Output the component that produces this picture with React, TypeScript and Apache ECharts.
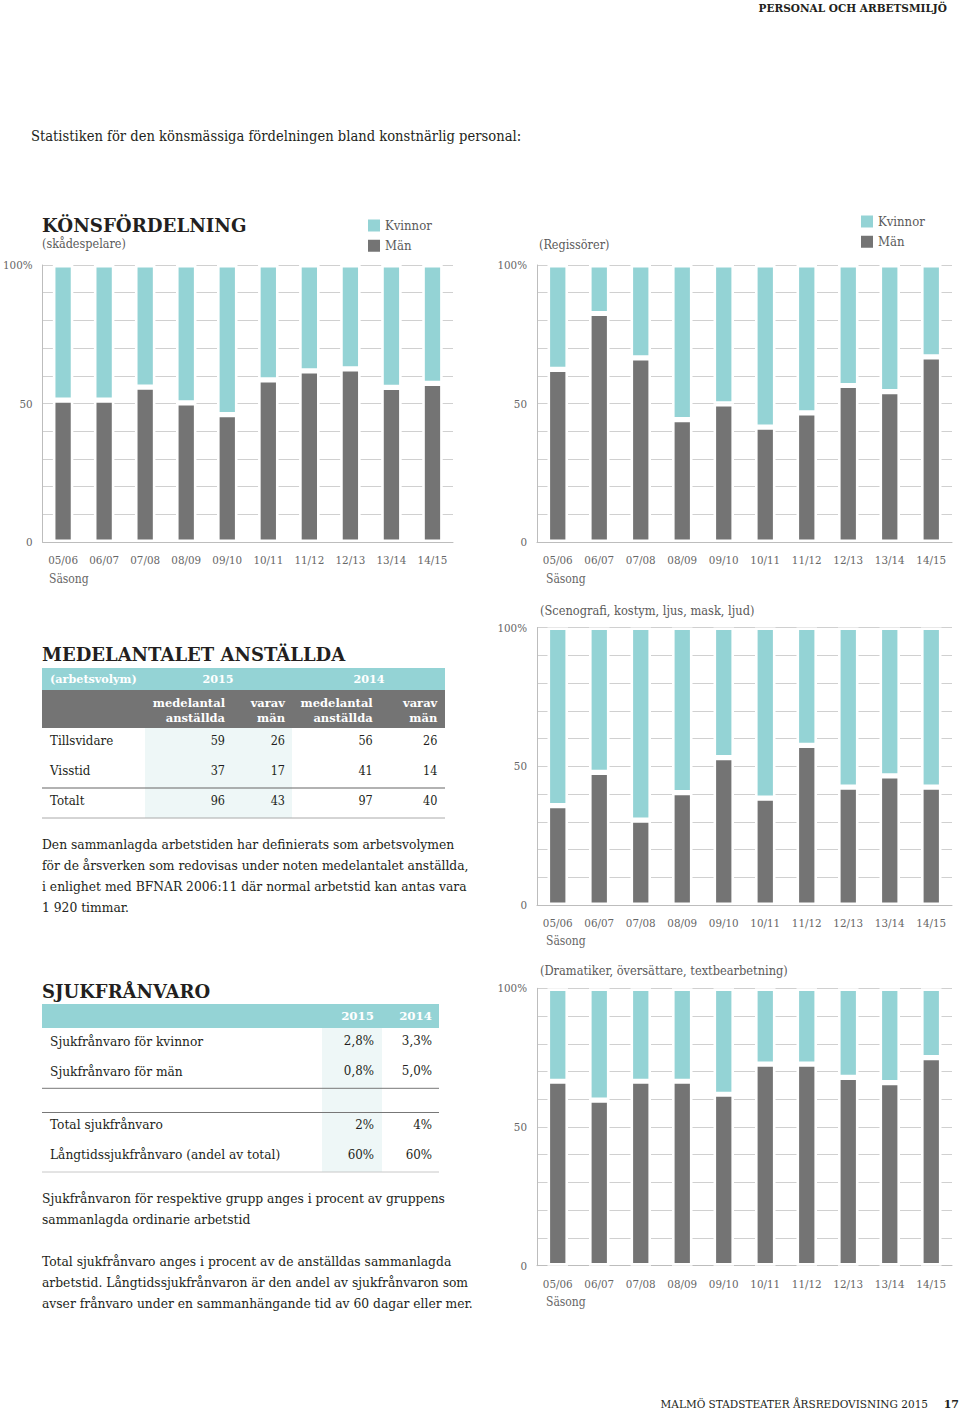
import React, { useEffect, useRef } from "react";
import * as echarts from "echarts";

// ---------- data ----------
const seasons = ["05/06", "06/07", "07/08", "08/09", "09/10", "10/11", "11/12", "12/13", "13/14", "14/15"];
// share of men (Män), percent
const menActors = [51.2, 51.2, 55.9, 50.2, 46.0, 58.5, 61.8, 62.5, 55.8, 57.3];
const menDirectors = [62.3, 82.5, 66.5, 44.2, 49.9, 41.5, 46.6, 56.5, 54.3, 66.8];
const menDesign = [35.8, 47.8, 30.6, 40.5, 53.1, 38.5, 57.5, 42.5, 46.5, 42.5];
const menWriters = [66.5, 59.7, 66.5, 66.5, 61.8, 72.7, 72.7, 67.9, 66.0, 75.0];
// share of women (Kvinnor), percent
const womenActors = [48.8, 48.8, 44.1, 49.8, 54.0, 41.5, 38.2, 37.5, 44.2, 42.7];
const womenDirectors = [37.7, 17.5, 33.5, 55.8, 50.1, 58.5, 53.4, 43.5, 45.7, 33.2];
const womenDesign = [64.2, 52.2, 69.4, 59.5, 46.9, 61.5, 42.5, 57.5, 53.5, 57.5];
const womenWriters = [33.5, 40.3, 33.5, 33.5, 38.2, 27.3, 27.3, 32.1, 34.0, 25.0];
const yTickLabels = { 0: "0", 50: "50", 100: "100%" } as Record<number, string>;
const chartSubtitles = ["(skådespelare)", "(Regissörer)", "(Scenografi, kostym, ljus, mask, ljud)", "(Dramatiker, översättare, textbearbetning)"];
const legendNames = ["Kvinnor", "Män"];

const staffYears = ["2015", "2014"];
const staffColHeads = [["medelantal", "anställda"], ["varav", "män"], ["medelantal", "anställda"], ["varav", "män"]];
const staffRows = ["Tillsvidare", "Visstid", "Totalt"];
const staffValues = [
  [59, 26, 56, 26],
  [37, 17, 41, 14],
  [96, 43, 97, 40],
];
const sickYears = ["2015", "2014"];
const sickRows = ["Sjukfrånvaro för kvinnor", "Sjukfrånvaro för män", "Total sjukfrånvaro", "Långtidssjukfrånvaro (andel av total)"];
const sickValues = [
  ["2,8%", "3,3%"],
  ["0,8%", "5,0%"],
  ["2%", "4%"],
  ["60%", "60%"],
];
const para1 = [
  "Den sammanlagda arbetstiden har definierats som arbetsvolymen",
  "för de årsverken som redovisas under noten medelantalet anställda,",
  "i enlighet med BFNAR 2006:11 där normal arbetstid kan antas vara",
  "1 920 timmar.",
];
const para2 = ["Sjukfrånvaron för respektive grupp anges i procent av gruppens", "sammanlagda ordinarie arbetstid"];
const para3 = [
  "Total sjukfrånvaro anges i procent av de anställdas sammanlagda",
  "arbetstid. Långtidssjukfrånvaron är den andel av sjukfrånvaron som",
  "avser frånvaro under en sammanhängande tid av 60 dagar eller mer.",
];

// ---------- styles ----------
const TEAL = "#94d3d5";
const GRAY = "#747474";
const LIGHT = "#eef7f7";
const INK = "#231f20";
const MUTED = "#5a5a5a";
const SERIF = '"DejaVu Serif Condensed", "DejaVu Serif", serif';
const SERIF_B = '"DejaVu Serif", serif';

function txt(x: number, y: number, text: string, o: any = {}) {
  return {
    type: "text",
    x,
    y,
    silent: true,
    style: {
      text,
      fontSize: o.size ?? 13.6,
      fontFamily: o.family ?? SERIF,
      fontWeight: o.weight ?? "normal",
      fill: o.fill ?? INK,
      align: o.align ?? "left",
      verticalAlign: "middle",
    },
  };
}
function rect(x: number, y: number, w: number, h: number, fill: string) {
  return { type: "rect", silent: true, shape: { x, y, width: w, height: h }, style: { fill } };
}
function hline(x1: number, x2: number, y: number, stroke: string, lw = 1) {
  return { type: "line", silent: true, shape: { x1, y1: y, x2, y2: y }, style: { stroke, lineWidth: lw } };
}

export default function App() {
  const ref = useRef<HTMLDivElement>(null);
  useEffect(() => {
    if (!ref.current) return;
    const chart = echarts.init(ref.current, undefined, { renderer: "svg" });

    const grids = [
      { left: 42, top: 265, width: 411, height: 277 },
      { left: 537, top: 265, width: 415, height: 277 },
      { left: 537, top: 627.5, width: 415, height: 277.5 },
      { left: 537, top: 988.3, width: 415, height: 277.4 },
    ];
    const men = [menActors, menDirectors, menDesign, menWriters];
    const women = [womenActors, womenDirectors, womenDesign, womenWriters];

    const xAxes = grids.map((_, i) => ({
      type: "category",
      gridIndex: i,
      data: seasons,
      axisLine: { lineStyle: { color: "#bdbdbd", width: 1 } },
      axisTick: { show: false },
      axisLabel: { color: "#666", fontSize: 11.5, fontFamily: SERIF, margin: 12, interval: 0 },
    }));
    const yAxes = grids.map((_, i) => ({
      type: "value",
      gridIndex: i,
      min: 0,
      max: 100,
      interval: 10,
      axisLine: { show: true, lineStyle: { color: "#bdbdbd", width: 1 } },
      axisTick: { show: false },
      splitLine: { lineStyle: { color: "#d0d0d0", width: 1 } },
      axisLabel: {
        color: "#666",
        fontSize: 11.5,
        fontFamily: SERIF,
        margin: 10,
        formatter: (v: number) => yTickLabels[v] ?? "",
      },
    }));
    const series: any[] = [];
    grids.forEach((_, i) => {
      series.push({
        name: "Män",
        type: "bar",
        stack: "s" + i,
        xAxisIndex: i,
        yAxisIndex: i,
        data: men[i],
        barWidth: 20.5,
        itemStyle: { color: GRAY, borderColor: "#ffffff", borderWidth: 2.6 },
      });
      series.push({
        name: "Kvinnor",
        type: "bar",
        stack: "s" + i,
        xAxisIndex: i,
        yAxisIndex: i,
        data: women[i],
        barWidth: 20.5,
        itemStyle: { color: TEAL, borderColor: "#ffffff", borderWidth: 2.6 },
      });
    });

    const legendCommon = {
      orient: "vertical",
      itemWidth: 14,
      itemHeight: 14,
      itemGap: 4.3,
      icon: "rect",
      data: legendNames,
      selectedMode: false,
      textStyle: { color: MUTED, fontSize: 13, fontFamily: SERIF, lineHeight: 14, padding: [0, 0, 0, -1] },
      padding: 0,
    };

    const g: any[] = [];
    // header / footer
    g.push(txt(947, 8, "PERSONAL OCH ARBETSMILJÖ", { family: SERIF_B, weight: "bold", size: 10.5, align: "right" }));
    g.push(txt(31, 135, "Statistiken för den könsmässiga fördelningen bland konstnärlig personal:", { size: 14.6 }));
    g.push(txt(928, 1404, "MALMÖ STADSTEATER ÅRSREDOVISNING 2015", { family: SERIF_B, size: 10.5, align: "right" }));
    g.push(txt(959, 1404, "17", { family: SERIF_B, weight: "bold", size: 11, align: "right" }));

    // chart titles
    g.push(txt(42, 225, "KÖNSFÖRDELNING", { family: SERIF_B, weight: "bold", size: 18.2 }));
    g.push(txt(42, 243, chartSubtitles[0], { fill: MUTED, size: 12.5 }));
    g.push(txt(539, 244, chartSubtitles[1], { fill: MUTED, size: 12.5 }));
    g.push(txt(540, 610, chartSubtitles[2], { fill: MUTED, size: 12.7 }));
    g.push(txt(540, 970, chartSubtitles[3], { fill: MUTED, size: 12.7 }));
    g.push(txt(49, 579, "Säsong", { fill: "#666", size: 12 }));
    g.push(txt(546, 579, "Säsong", { fill: "#666", size: 12 }));
    g.push(txt(546, 941, "Säsong", { fill: "#666", size: 12 }));
    g.push(txt(546, 1302, "Säsong", { fill: "#666", size: 12 }));

    // MEDELANTALET ANSTÄLLDA table
    g.push(txt(42, 654, "MEDELANTALET ANSTÄLLDA", { family: SERIF_B, weight: "bold", size: 18 }));
    g.push(rect(42, 668, 403, 22, TEAL));
    g.push(rect(42, 690, 403, 38, GRAY));
    g.push(rect(145, 728, 147, 90, LIGHT));
    g.push(txt(50, 679, "(arbetsvolym)", { family: SERIF_B, weight: "bold", size: 11.2, fill: "#fff" }));
    g.push(txt(218, 679, staffYears[0], { family: SERIF_B, weight: "bold", size: 11.2, fill: "#fff", align: "center" }));
    g.push(txt(369, 679, staffYears[1], { family: SERIF_B, weight: "bold", size: 11.2, fill: "#fff", align: "center" }));
    const colRight = [225, 285, 372.7, 437.3];
    staffColHeads.forEach((h, i) => {
      g.push(txt(colRight[i], 703, h[0], { family: SERIF_B, weight: "bold", size: 11.5, fill: "#fff", align: "right" }));
      g.push(txt(colRight[i], 717.5, h[1], { family: SERIF_B, weight: "bold", size: 11.5, fill: "#fff", align: "right" }));
    });
    const staffY = [740, 770, 800];
    staffRows.forEach((r, ri) => {
      g.push(txt(50, staffY[ri], r, { size: 13.2 }));
      staffValues[ri].forEach((v, ci) => {
        g.push(txt(colRight[ci], staffY[ri], String(v), { size: 12.5, align: "right" }));
      });
    });
    g.push(hline(42, 445, 788, "#666", 1.2));
    g.push(hline(42, 445, 818, "#aaa", 1));

    para1.forEach((l, i) => g.push(txt(42, 844 + i * 21, l, { size: 13.7 })));

    // SJUKFRÅNVARO table
    g.push(txt(42, 991, "SJUKFRÅNVARO", { family: SERIF_B, weight: "bold", size: 18 }));
    g.push(rect(42, 1004, 397, 24, TEAL));
    g.push(rect(322, 1028, 60, 144, LIGHT));
    const sickRight = [374, 432];
    g.push(txt(sickRight[0], 1016, sickYears[0], { family: SERIF_B, weight: "bold", size: 11.8, fill: "#fff", align: "right" }));
    g.push(txt(sickRight[1], 1016, sickYears[1], { family: SERIF_B, weight: "bold", size: 11.8, fill: "#fff", align: "right" }));
    const sickY = [1040.5, 1070.5, 1124, 1154];
    sickRows.forEach((r, ri) => {
      g.push(txt(50, sickY[ri], r, { size: 13.6 }));
      sickValues[ri].forEach((v, ci) => g.push(txt(sickRight[ci], sickY[ri], v, { size: 13.2, align: "right" })));
    });
    g.push(hline(42, 439, 1088.3, "#777", 1));
    g.push(hline(42, 439, 1112.5, "#777", 1));
    g.push(hline(42, 439, 1172, "#c8c8c8", 1));

    para2.forEach((l, i) => g.push(txt(42, 1198 + i * 21, l, { size: 13.7 })));
    para3.forEach((l, i) => g.push(txt(42, 1261 + i * 21, l, { size: 13.7 })));

    chart.setOption({
      animation: false,
      backgroundColor: "#ffffff",
      grid: grids,
      xAxis: xAxes,
      yAxis: yAxes,
      series,
      legend: [
        { ...legendCommon, left: 366, top: 217.5 },
        { ...legendCommon, left: 859, top: 213.5 },
      ],
      graphic: g,
    });
    return () => chart.dispose();
  }, []);
  return (
    <div
      ref={ref}
      style={{ position: "absolute", left: 0, top: 0, width: 960, height: 1411, background: "#fff" }}
    />
  );
}
